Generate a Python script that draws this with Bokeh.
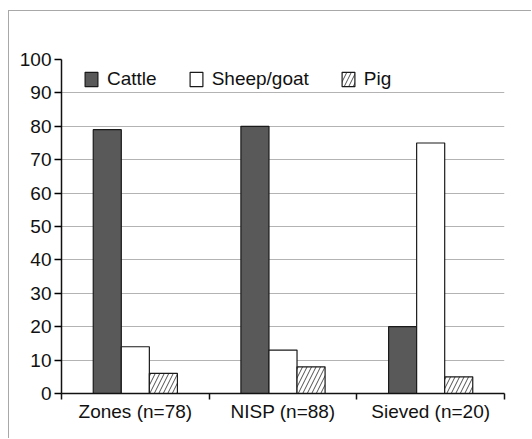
from bokeh.plotting import figure
from bokeh.models import FixedTicker, ColumnDataSource, Legend, LegendItem
from bokeh.embed import file_html
from bokeh.resources import INLINE

categories = ["Zones (n=78)", "NISP (n=88)", "Sieved (n=20)"]
series = ["Cattle", "Sheep/goat", "Pig"]
cattle = [79, 80, 20]
sheep_goat = [14, 13, 75]
pig = [6, 8, 5]
y_ticks = [0, 10, 20, 30, 40, 50, 60, 70, 80, 90, 100]

FONT = "Liberation Sans"

p = figure(width=523, height=428, x_range=(0, 3), y_range=(0, 100),
           output_backend="svg", toolbar_location=None,
           min_border_left=52, min_border_top=48, min_border_right=28, min_border_bottom=46)
p.styles = {"border-top": "1px solid #a8a8a8", "border-left": "1px solid #a8a8a8",
            "margin-top": "10px", "margin-left": "8px"}
p.outline_line_color = None
p.background_fill_color = "white"

centers = [i + 0.5 for i in range(len(categories))]
bw = 0.19
offsets = [-bw, 0, bw]
vals = [cattle, sheep_goat, pig]
renderers = []
styles = [
    dict(fill_color="#595959", line_color="#1a1a1a"),
    dict(fill_color="white", line_color="#1a1a1a"),
    dict(fill_color="white", line_color="#1a1a1a", hatch_pattern="/", hatch_color="#222222",
         hatch_scale=9, hatch_weight=0.8),
]
for name, v, off, st in zip(series, vals, offsets, styles):
    src = ColumnDataSource(dict(x=[c + off for c in centers], top=v))
    r = p.vbar(x="x", top="top", width=bw, bottom=0, source=src, line_width=1.2, **st)
    renderers.append((name, r))

legend = Legend(items=[LegendItem(label=n, renderers=[r]) for n, r in renderers],
                location=(22, 303), orientation="horizontal",
                border_line_color=None, background_fill_alpha=0,
                label_text_font=FONT, label_text_font_size="19px", label_text_color="#111111",
                glyph_width=16, glyph_height=18, spacing=31, label_standoff=8,
                margin=0, padding=0)
p.add_layout(legend)

p.xgrid.grid_line_color = None
p.ygrid.grid_line_color = "#b3b3b3"
p.ygrid.grid_line_width = 1.2
p.ygrid.ticker = FixedTicker(ticks=y_ticks)

p.yaxis.ticker = FixedTicker(ticks=y_ticks)
p.yaxis.axis_line_color = "#111111"
p.yaxis.axis_line_width = 1.5
p.yaxis.major_tick_in = 0
p.yaxis.major_tick_out = 7
p.yaxis.major_tick_line_width = 1.5
p.yaxis.minor_tick_line_color = None
p.yaxis.major_label_text_font = FONT
p.yaxis.major_label_text_font_size = "19px"
p.yaxis.major_label_text_color = "#111111"
p.yaxis.major_label_standoff = 3

p.xaxis.ticker = FixedTicker(ticks=centers, minor_ticks=[0, 1, 2, 3])
p.xaxis.major_label_overrides = {c: lab for c, lab in zip(centers, categories)}
p.xaxis.axis_line_color = "#111111"
p.xaxis.axis_line_width = 1.5
p.xaxis.major_tick_line_color = None
p.xaxis.minor_tick_in = 0
p.xaxis.minor_tick_out = 6
p.xaxis.minor_tick_line_width = 1.5
p.xaxis.minor_tick_line_color = "#111111"
p.xaxis.major_label_text_font = FONT
p.xaxis.major_label_text_font_size = "19px"
p.xaxis.major_label_text_color = "#111111"
p.xaxis.major_label_standoff = 1

open("out.html", "w").write(file_html(p, INLINE))
